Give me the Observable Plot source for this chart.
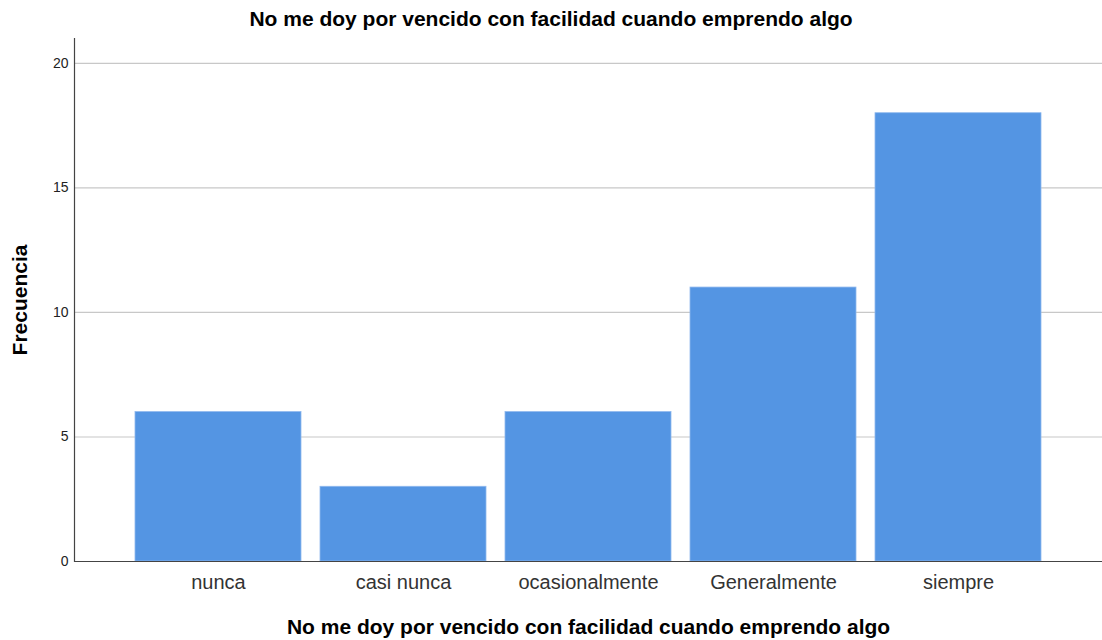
<!DOCTYPE html>
<html>
<head>
<meta charset="utf-8">
<script src="https://cdn.jsdelivr.net/npm/d3@7"></script>
<script src="https://cdn.jsdelivr.net/npm/@observablehq/plot@0.6"></script>
<style>
  html, body { margin: 0; padding: 0; background: #fff; }
  #title { width: 1102px; height: 36px; text-align: center;
    font: bold 21px "Liberation Sans", Arial, sans-serif; line-height: 38px; color: #000; }
  #chart svg { display: block; }
</style>
</head>
<body>
<div id="title">No me doy por vencido con facilidad cuando emprendo algo</div>
<div id="chart"></div>
<script>
const categories = ["nunca", "casi nunca", "ocasionalmente", "Generalmente", "siempre"];
const frequencies = [6, 3, 6, 11, 18];
const yTicks = [0, 5, 10, 15, 20];
const chartTitle = "No me doy por vencido con facilidad cuando emprendo algo";
const yLabel = "Frecuencia";

const data = categories.map((c, i) => ({category: c, value: frequencies[i]}));

const chart = Plot.plot({
  width: 1102,
  height: 604,
  marginTop: 2,
  marginLeft: 74,
  marginRight: 0,
  marginBottom: 79,
  style: {fontFamily: "'Liberation Sans', Arial, sans-serif", background: "#fff"},
  x: {domain: categories, paddingInner: 0.105, paddingOuter: 0.323, label: null},
  y: {domain: [0, 21], ticks: yTicks, label: null},
  marks: [
    Plot.gridY(yTicks, {stroke: "#c8c8c8", strokeOpacity: 1, strokeWidth: 1.2}),
    Plot.barY(data, {x: "category", y: "value", fill: "#5495e3", stroke: "#8fb8ee", strokeWidth: 0.8}),
    Plot.ruleY([0], {stroke: "#444", strokeWidth: 1.2}),
    Plot.frame({anchor: "left", stroke: "#444", strokeWidth: 1.2}),
    Plot.axisY(yTicks, {tickSize: 0, tickPadding: 6, fontSize: 14, fill: "#222",
      label: yLabel, labelAnchor: "center", labelArrow: "none", labelOffset: 62}),
    Plot.axisX({tickSize: 0, tickPadding: 13, fontSize: 20, fill: "#333",
      label: chartTitle, labelAnchor: "center", labelArrow: "none", labelOffset: 72})
  ]
});

chart.querySelectorAll("g[aria-label='x-axis label'] text, g[aria-label='y-axis label'] text").forEach(t => {
  t.setAttribute("font-weight", "bold");
  t.setAttribute("font-size", "21");
  t.setAttribute("fill", "#000");
});
document.getElementById("chart").appendChild(chart);
</script>
</body>
</html>
